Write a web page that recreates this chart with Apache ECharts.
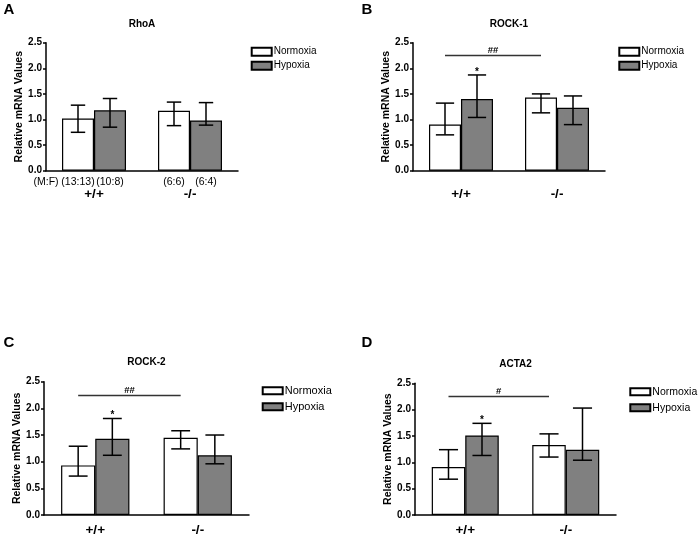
<!DOCTYPE html>
<html><head><meta charset="utf-8">
<script src="https://cdn.jsdelivr.net/npm/echarts@6/dist/echarts.min.js"></script>
<style>html,body{margin:0;padding:0;background:#fff}#c{width:700px;height:537px}</style>
</head><body><div id="c"></div>
<script>
// ---------- data ----------
const categories = ['+/+', '-/-'];
const panelLetters = ['A', 'B', 'C', 'D'];
const panelTitles = ['RhoA', 'ROCK-1', 'ROCK-2', 'ACTA2'];
const seriesNames = ['Normoxia', 'Hypoxia'];
const yAxisName = 'Relative mRNA Values';

const rhoaNormoxia = [1.02, 1.17];
const rhoaNormoxiaErr = [[0.75, 1.28], [0.88, 1.34]];
const rhoaHypoxia = [1.18, 0.98];
const rhoaHypoxiaErr = [[0.85, 1.41], [0.89, 1.33]];

const rock1Normoxia = [0.90, 1.43];
const rock1NormoxiaErr = [[0.70, 1.32], [1.13, 1.50]];
const rock1Hypoxia = [1.40, 1.23];
const rock1HypoxiaErr = [[1.04, 1.87], [0.90, 1.46]];

const rock2Normoxia = [0.93, 1.45];
const rock2NormoxiaErr = [[0.73, 1.29], [1.24, 1.58]];
const rock2Hypoxia = [1.43, 1.12];
const rock2HypoxiaErr = [[1.12, 1.81], [0.96, 1.50]];

const acta2Normoxia = [0.91, 1.33];
const acta2NormoxiaErr = [[0.68, 1.24], [1.10, 1.54]];
const acta2Hypoxia = [1.51, 1.24];
const acta2HypoxiaErr = [[1.13, 1.74], [1.04, 2.03]];

const rhoaStars = ['', ''];
const rock1Stars = ['*', ''];
const rock2Stars = ['*', ''];
const acta2Stars = ['*', ''];

const rock1Sig = { label: '##', level: 2.25 };
const rock2Sig = { label: '##', level: 2.24 };
const acta2Sig = { label: '#', level: 2.25 };

const sexRatioLabel = '(M:F)';
const rhoaCounts = [['(13:13)', '(10:8)'], ['(6:6)', '(6:4)']];

const yMin = 0, yMax = 2.5, yStep = 0.5;

// ---------- assemble ----------
const panels = [
  { n: rhoaNormoxia, nErr: rhoaNormoxiaErr, h: rhoaHypoxia, hErr: rhoaHypoxiaErr, stars: rhoaStars, sig: null, counts: rhoaCounts },
  { n: rock1Normoxia, nErr: rock1NormoxiaErr, h: rock1Hypoxia, hErr: rock1HypoxiaErr, stars: rock1Stars, sig: rock1Sig },
  { n: rock2Normoxia, nErr: rock2NormoxiaErr, h: rock2Hypoxia, hErr: rock2HypoxiaErr, stars: rock2Stars, sig: rock2Sig },
  { n: acta2Normoxia, nErr: acta2NormoxiaErr, h: acta2Hypoxia, hErr: acta2HypoxiaErr, stars: acta2Stars, sig: acta2Sig }
];

// layout / style
const FONT = '"Liberation Sans", Arial, Helvetica, sans-serif';
const grids = [
  { left: 46, top: 42.7, width: 192, height: 128 },
  { left: 413, top: 42.7, width: 192, height: 128 },
  { left: 44, top: 381.7, width: 205, height: 135 },
  { left: 415, top: 383.3, width: 201, height: 133.4 }
];
const letterPos = [[9, 10], [367, 10], [9, 342.5], [367, 342.5]];
const titleY = [24, 24, 362, 364];
const xLabelMargin = [17, 17, 8, 8];
const nameGaps = [20, 20, 20, 21.5];
const capRatio = [0.075, 0.095, 0.092, 0.095];
const legendPos = [
  { left: 250.7, top: 44.7, lh: 14, ih: 8, fs: 10 },
  { left: 618.3, top: 44.7, lh: 14, ih: 8, fs: 10 },
  { left: 261.7, top: 382.8, lh: 16, ih: 7, fs: 11 },
  { left: 629.3, top: 383.8, lh: 16, ih: 7, fs: 10.5 }
];
const HYPOXIA_GRAY = '#808080';

const option = {
  animation: false,
  backgroundColor: '#fff',
  textStyle: { fontFamily: FONT },
  grid: grids.map(g => Object.assign({ containLabel: false }, g)),
  xAxis: grids.map((g, i) => ({
    type: 'category', gridIndex: i, data: categories,
    axisLine: { lineStyle: { color: '#000', width: 1.5 } },
    axisTick: { alignWithLabel: true, length: 3, lineStyle: { color: '#000', width: 1.5 } },
    axisLabel: { margin: xLabelMargin[i], color: '#000', fontSize: 13.5, fontWeight: 'bold', fontFamily: FONT },
    z: 5
  })),
  yAxis: grids.map((g, i) => ({
    type: 'value', gridIndex: i, min: yMin, max: yMax, interval: yStep,
    axisLine: { show: true, lineStyle: { color: '#000', width: 1.5 } },
    axisTick: { show: true, length: 3, lineStyle: { color: '#000', width: 1.5 } },
    axisLabel: { margin: 4, color: '#000', fontSize: 10, fontWeight: 'bold', fontFamily: FONT, formatter: v => v.toFixed(1) },
    splitLine: { show: false },
    name: yAxisName, nameLocation: 'middle', nameRotate: 90, nameGap: nameGaps[i],
    nameTextStyle: { color: '#000', fontSize: 10.5, fontWeight: 'bold', fontFamily: FONT },
    z: 5
  })),
  legend: legendPos.map(L => ({
    data: seriesNames, orient: 'vertical', left: L.left, top: L.top, padding: 0,
    itemWidth: 20, itemHeight: L.ih, itemGap: 0, icon: 'rect', selectedMode: false,
    textStyle: { color: '#000', fontSize: L.fs, lineHeight: L.lh, fontFamily: FONT, padding: [0, 0, 0, -3] }
  })),
  graphic: [],
  series: []
};

// panel letters and titles
panels.forEach((p, i) => {
  const g = grids[i];
  option.graphic.push({
    type: 'text', x: letterPos[i][0], y: letterPos[i][1],
    style: { text: panelLetters[i], font: 'bold 15px ' + FONT, fill: '#000', align: 'center', verticalAlign: 'middle' }
  });
  option.graphic.push({
    type: 'text', x: g.left + g.width / 2, y: titleY[i],
    style: { text: panelTitles[i], font: 'bold 10px ' + FONT, fill: '#000', align: 'center', verticalAlign: 'middle' }
  });
});

function errorSeries(i, errs, sign, stars) {
  return {
    type: 'custom', xAxisIndex: i, yAxisIndex: i, z: 4, silent: true,
    data: errs.map((e, k) => [k, e[0], e[1]]),
    encode: { x: 0, y: [1, 2] },
    renderItem: (params, api) => {
      const k = api.value(0);
      const lo = api.coord([k, api.value(1)]);
      const hi = api.coord([k, api.value(2)]);
      const band = api.size([1, 0])[0];
      const x = lo[0] + sign * band / 6;
      const c = band * capRatio[i];
      const ls = { stroke: '#000', lineWidth: 1.5 };
      const children = [
        { type: 'line', shape: { x1: x, y1: lo[1], x2: x, y2: hi[1] }, style: ls },
        { type: 'line', shape: { x1: x - c, y1: hi[1], x2: x + c, y2: hi[1] }, style: ls },
        { type: 'line', shape: { x1: x - c, y1: lo[1], x2: x + c, y2: lo[1] }, style: ls }
      ];
      const s = stars[params.dataIndex];
      if (s) {
        children.push({ type: 'text', x: x, y: hi[1] - 3,
          style: { text: s, font: 'bold 10px ' + FONT, fill: '#000', align: 'center', verticalAlign: 'middle' } });
      }
      return { type: 'group', children };
    }
  };
}

panels.forEach((p, i) => {
  option.series.push({
    name: seriesNames[0], type: 'bar', xAxisIndex: i, yAxisIndex: i, data: p.n,
    barWidth: '33.33%', barGap: '0%', z: 2,
    itemStyle: { color: '#fff', borderColor: '#000', borderWidth: 1.2 }
  });
  option.series.push({
    name: seriesNames[1], type: 'bar', xAxisIndex: i, yAxisIndex: i, data: p.h,
    barWidth: '33.33%', barGap: '0%', z: 2,
    itemStyle: { color: HYPOXIA_GRAY, borderColor: '#000', borderWidth: 1.2 }
  });
  option.series.push(errorSeries(i, p.nErr, -1, ['', '']));
  option.series.push(errorSeries(i, p.hErr, 1, p.stars));

  if (p.sig) {
    const sig = p.sig;
    option.series.push({
      type: 'custom', xAxisIndex: i, yAxisIndex: i, z: 4, silent: true,
      data: [[0, 1, sig.level]],
      encode: { x: [0, 1], y: 2 },
      renderItem: (params, api) => {
        const a = api.coord([api.value(0), api.value(2)]);
        const b = api.coord([api.value(1), api.value(2)]);
        const band = api.size([1, 0])[0];
        const x1 = a[0] - band / 6, x2 = b[0] - band / 6;
        return { type: 'group', children: [
          { type: 'line', shape: { x1, y1: a[1], x2, y2: b[1] }, style: { stroke: '#333', lineWidth: 1.5 } },
          { type: 'text', x: (x1 + x2) / 2, y: a[1] - 5,
            style: { text: sig.label, font: 'bold 9.5px ' + FONT, fill: '#000', align: 'center', verticalAlign: 'middle' } }
        ] };
      }
    });
  }

  if (p.counts) {
    const counts = p.counts;
    option.series.push({
      type: 'custom', xAxisIndex: i, yAxisIndex: i, z: 4, silent: true,
      data: [[0, 0], [1, 0]],
      encode: { x: 0, y: 1 },
      renderItem: (params, api) => {
        const k = api.value(0);
        const base = api.coord([k, 0]);
        const band = api.size([1, 0])[0];
        const y = base[1] + 11;
        const st = t => ({ text: t, font: '10.5px ' + FONT, fill: '#000', align: 'center', verticalAlign: 'middle' });
        const children = [
          { type: 'text', x: base[0] - band / 6, y, style: st(counts[k][0]) },
          { type: 'text', x: base[0] + band / 6, y, style: st(counts[k][1]) }
        ];
        if (k === 0) {
          children.push({ type: 'text', x: base[0] - band / 6 - band / 3, y, style: st(sexRatioLabel) });
        }
        return { type: 'group', children };
      }
    });
  }
});

const chart = echarts.init(document.getElementById('c'), null, { renderer: 'canvas' });
chart.setOption(option);
</script>
</body></html>
